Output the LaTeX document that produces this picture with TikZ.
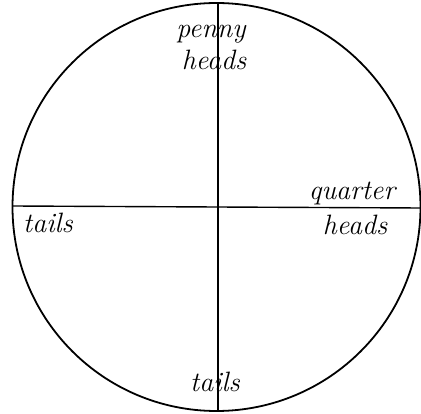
\documentclass[tikz,border=0pt]{standalone}

\begin{document}
\begin{tikzpicture}[x=1pt, y=-1pt, every node/.style={font=\itshape\fontsize{28}{30}\selectfont, anchor=base, inner sep=0pt}]
	\useasboundingbox (0,0) rectangle (421,414);

	% Cerchio
	\draw[line width=1.8pt] (216.5,207) circle[radius=204pt];

	% Assi
	\coordinate (N) at (218,3);
	\coordinate (S) at (218,411);
	\coordinate (W) at (12.5,206);
	\coordinate (E) at (420.5,208);
	\draw[line width=1.4pt] (N) -- (S);
	\draw[line width=1.4pt] (W) -- (E);

	% Etichette
	\node (penny) at (211,38) {penny};
	\node (pheads) at (214,70) {heads};
	\node (ltails) at (48,233) {tails};
	\node (quarter) at (352,200) {quarter};
	\node (qheads) at (355,235) {heads};
	\node (btails) at (215,392) {tails};
\end{tikzpicture}
\end{document}
